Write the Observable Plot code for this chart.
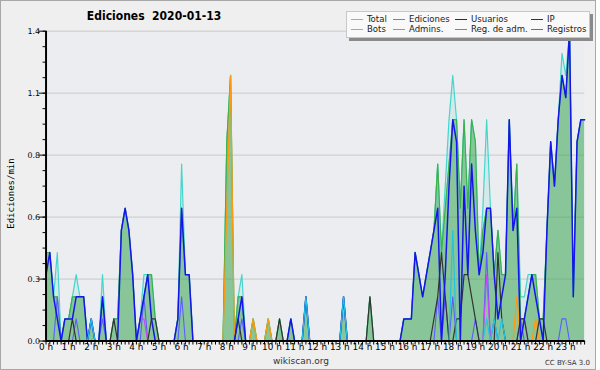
<!DOCTYPE html>
<html><head><meta charset="utf-8">
<script src="https://cdn.jsdelivr.net/npm/d3@7"></script>
<script src="https://cdn.jsdelivr.net/npm/@observablehq/plot@0.6"></script>
<style>
html,body{margin:0;padding:0;background:#fff;}
#wrap{position:relative;width:596px;height:370px;background:#efefef;border:1px solid #a8a8a8;box-sizing:border-box;overflow:hidden;font-family:"DejaVu Sans",sans-serif;color:#000;}
#wrap svg{position:absolute;left:-1px;top:-1px;}
.abs{position:absolute;white-space:pre;line-height:1;}
</style>
</head><body>
<div id="wrap"></div>
<script>
// ---- data: edits per minute, 10-minute slots (6 per hour), 2020-01-13 ----
const title = "Ediciones  2020-01-13";
const yTitle = "Ediciones/min";
const hourLabels = d3.range(24).map(h => h + " h");
const yTicks = [0, 0.28, 0.56, 0.84, 1.12, 1.4];
const seriesNames = ["Total","Ediciones","Usuarios","IP","Bots","Admins.","Reg. de adm.","Registros"];

const total = [
 .4,.4,.2,.4,0,.1,  .1,.2,.3,.2,.2,0,  .1,0,0,.3,0,0,  .1,.1,.5,.6,.5,.3,
 0,.1,.3,.3,.3,.1,  0,0,0,0,0,.1,  .8,.3,.3,0,0,0,  0,0,0,0,0,0,
 .9,1.2,0,.2,.3,0,  0,.1,0,0,0,.1,  0,0,.1,0,0,.1,  0,0,0,.2,0,0,
 0,0,0,0,0,0,  0,.2,0,0,0,0,  0,0,.2,0,0,0,  0,0,0,0,0,.1,
 .1,.1,.4,.3,.2,.3,  .4,.5,.8,.4,.7,1.0,  1.2,1.0,.6,1.0,.6,1.0,  .9,.3,.6,1.0,.6,.3,
 .5,.3,.3,1.0,.5,.8,  .2,.2,.3,.3,.3,.1,  .1,.5,.9,.7,1.0,1.3,  1.2,1.4,.2,.9,1.0,1.0];
const edits = [
 .4,.4,.2,.2,0,.1,  .1,.2,.2,.2,.2,0,  .1,0,0,.2,0,0,  .1,.1,.5,.6,.5,.3,
 0,.1,.2,.3,.3,.1,  0,0,0,0,0,.1,  .6,.3,.3,0,0,0,  0,0,0,0,0,0,
 .9,1.2,0,.2,.2,0,  0,.1,0,0,0,.1,  0,0,.1,0,0,.1,  0,0,0,.2,0,0,
 0,0,0,0,0,0,  0,.2,0,0,0,0,  0,0,.2,0,0,0,  0,0,0,0,0,.1,
 .1,.1,.4,.3,.2,.3,  .4,.5,.8,.4,.6,.8,  1.0,1.0,.6,1.0,.6,1.0,  .9,.3,.5,.6,.6,.3,
 .5,.3,.3,1.0,.5,.8,  .1,.1,.2,.3,.3,.1,  .1,.5,.9,.7,1.0,1.2,  1.1,1.4,.2,.9,1.0,1.0];
const users = [
 .3,.4,.2,.1,0,.1,  .1,.1,.2,.2,.2,0,  .1,0,0,.2,0,0,  0,0,.5,.6,.5,.3,
 0,.1,.2,.3,.1,0,  0,0,0,0,0,.1,  .6,.3,.3,0,0,0,  0,0,0,0,0,0,
 0,0,0,.1,.2,0,  0,0,0,0,0,0,  0,0,0,0,0,.1,  0,0,0,.2,0,0,
 0,0,0,0,0,0,  0,.2,0,0,0,0,  0,0,0,0,0,0,  0,0,0,0,0,.1,
 .1,.1,.4,.3,.2,.3,  .4,.5,.6,0,.3,.7,  1.0,.9,0,.7,.3,.8,  .5,.3,.4,.6,.6,.3,
 .1,.2,.3,1.0,.5,.6,  0,.1,.2,.3,.2,.1,  0,.5,.9,.7,1.0,1.2,  1.1,1.4,.2,.9,1.0,1.0];
const ip = [
 0,0,0,0,0,0,  0,.1,0,0,0,0,  0,0,0,0,0,0,  .1,0,0,0,0,0,
 0,0,0,0,.1,.1,  0,0,0,0,0,0,  0,0,0,0,0,0,  0,0,0,0,0,0,
 0,0,0,.1,0,0,  0,0,0,0,0,0,  0,0,.1,0,0,0,  0,0,0,0,0,0,
 0,0,0,0,0,0,  0,0,0,0,0,0,  0,0,.2,0,0,0,  0,0,0,0,0,0,
 0,0,0,0,0,0,  0,.1,.2,.4,.2,0,  0,.1,.1,.3,.3,.2,  .1,0,0,0,0,0,
 .4,.1,0,0,0,0,  .1,.1,0,0,0,.1,  .1,0,0,0,0,0,  0,0,0,0,0,0];
const bots = [
 0,0,0,0,0,0,  0,0,0,0,0,0,  0,0,0,0,0,0,  0,0,0,0,0,0,
 0,0,0,0,0,0,  0,0,0,0,0,0,  0,0,0,0,0,0,  0,0,0,0,0,0,
 .6,1.2,0,0,0,0,  0,.1,0,0,0,.1,  0,0,0,0,0,0,  0,0,0,0,0,0,
 0,0,0,0,0,0,  0,0,0,0,0,0,  0,0,0,0,0,0,  0,0,0,0,0,0,
 0,0,0,0,0,0,  0,0,0,0,0,0,  0,0,0,0,0,0,  0,0,0,0,0,0,
 0,0,0,0,0,.2,  0,0,0,0,.1,0,  0,0,0,0,0,0,  0,0,0,0,0,0];
const admins = [
 0,0,0,0,0,0,  0,0,0,0,0,0,  .1,0,0,0,0,0,  0,0,0,0,0,0,
 0,0,0,0,0,0,  0,0,0,0,0,0,  0,0,0,0,0,0,  0,0,0,0,0,0,
 0,0,0,0,0,0,  0,0,0,0,0,0,  0,0,0,0,0,0,  0,0,0,.2,0,0,
 0,0,0,0,0,0,  0,.2,0,0,0,0,  0,0,0,0,0,0,  0,0,0,0,0,0,
 0,0,0,0,0,0,  0,0,0,0,0,0,  .5,0,0,0,0,0,  0,0,0,.1,0,.1,
 0,.1,0,0,0,0,  0,0,0,0,0,0,  0,0,0,0,0,0,  0,0,0,0,0,0];
const logAdm = [
 0,0,0,0,0,0,  0,0,0,0,0,0,  0,0,0,0,0,0,  0,0,0,0,0,0,
 0,.1,.1,0,0,0,  0,0,0,0,0,0,  0,0,0,0,0,0,  0,0,0,0,0,0,
 0,0,0,0,0,0,  0,0,0,0,0,0,  0,0,0,0,0,0,  0,0,0,0,0,0,
 0,0,0,0,0,0,  0,0,0,0,0,0,  0,0,0,0,0,0,  0,0,0,0,0,0,
 0,0,0,0,0,0,  0,0,0,0,0,0,  0,0,0,0,0,0,  0,0,0,.3,0,0,
 0,0,0,0,0,0,  0,.1,0,0,0,0,  0,0,0,0,0,0,  0,0,0,0,0,0];
const logs = [
 0,0,0,.2,0,0,  0,0,.1,0,0,0,  0,0,0,.1,0,0,  0,0,0,0,0,0,
 0,0,.2,0,0,0,  0,0,0,0,0,0,  .2,0,0,0,0,0,  0,0,0,0,0,0,
 0,0,0,0,.1,0,  0,0,0,0,0,0,  0,0,0,0,0,0,  0,0,0,0,0,0,
 0,0,0,0,0,0,  0,0,0,0,0,0,  0,0,0,0,0,0,  0,0,0,0,0,0,
 0,0,0,0,0,0,  0,0,.2,0,.2,0,  .2,0,0,0,0,0,  .1,0,0,.4,0,.1,
 0,0,0,0,0,0,  .1,0,0,0,0,0,  0,0,0,0,0,.1,  .1,0,0,0,0,0];

// ---- styles ----
const colors = {Total:"#44d6cc", Ediciones:"#3cb04a", Usuarios:"#1414ee", IP:"#333333",
  Bots:"#ff9a10", "Admins.":"#22c4e0", "Reg. de adm.":"#cc44ff", Registros:"#5c5cff"};

const data = total.map((v, i) => ({t: i * 10, total: v, edits: edits[i], users: users[i], ip: ip[i],
  bots: bots[i], admins: admins[i], logAdm: logAdm[i], logs: logs[i]}));
const minorY = d3.range(0, 1.4001, 0.07);
const minorX = d3.range(0, 1440, 10);
const hourTicks = d3.range(24).map(h => h * 60);

const plot = Plot.plot({
  width: 600, height: 370,
  marginLeft: 46, marginRight: 10, marginTop: 31, marginBottom: 26,
  x: {domain: [0, 1430]},
  y: {domain: [0, 1.4]},
  style: {background: "none", fontFamily: "DejaVu Sans, sans-serif", color: "#000", overflow: "visible"},
  marks: [
    Plot.frame({fill: "#ecedf0", stroke: "none"}),
    Plot.ruleY(yTicks.slice(1), {stroke: "#c9c9c9"}),
    Plot.areaY(data, {x: "t", y: "total", fill: "#40d0c8", fillOpacity: 0.13}),
    Plot.areaY(data, {x: "t", y: "edits", fill: "#2e9c3a", fillOpacity: 0.46}),
    Plot.lineY(data, {x: "t", y: "total", stroke: colors.Total, strokeWidth: 1.2}),
    Plot.lineY(data, {x: "t", y: "edits", stroke: colors.Ediciones, strokeWidth: 1.2}),
    Plot.lineY(data, {x: "t", y: "logs", stroke: colors.Registros, strokeWidth: 1.1}),
    Plot.lineY(data, {x: "t", y: "logAdm", stroke: colors["Reg. de adm."], strokeWidth: 1.1}),
    Plot.lineY(data, {x: "t", y: "bots", stroke: colors.Bots, strokeWidth: 1.3}),
    Plot.lineY(data, {x: "t", y: "ip", stroke: colors.IP, strokeWidth: 1.2}),
    Plot.lineY(data, {x: "t", y: "users", stroke: colors.Usuarios, strokeWidth: 1.5}),
    Plot.lineY(data, {x: "t", y: "admins", stroke: colors["Admins."], strokeWidth: 1.2}),
    Plot.axisY(minorY, {tickSize: 3, tickFormat: () => "", label: null}),
    Plot.axisY(yTicks, {tickSize: 7, tickPadding: -1, tickFormat: d3.format(".1f"), fontSize: 8, label: null}),
    Plot.axisX(minorX, {tickSize: 4, tickFormat: () => "", label: null}),
    Plot.axisX(hourTicks, {tickSize: 0, tickPadding: 3, tickFormat: d => hourLabels[Math.round(d / 60)], fontSize: 9, label: null}),
    Plot.ruleY([0], {stroke: "#000", strokeWidth: 2}),
    Plot.ruleX([0], {stroke: "#000", strokeWidth: 2})
  ]
});
const wrap = document.getElementById("wrap");
wrap.appendChild(plot);

function addText(txt, css) {
  const d = document.createElement("div");
  d.className = "abs";
  d.textContent = txt;
  Object.assign(d.style, css);
  wrap.appendChild(d);
  return d;
}
addText(title, {left: "0px", width: "306px", textAlign: "center", top: "9px", fontSize: "12px", fontWeight: "bold", fontFamily: "'DejaVu Sans Condensed','DejaVu Sans',sans-serif"});
addText(yTitle, {left: "-30px", top: "188px", width: "80px", textAlign: "center", fontSize: "9px", fontFamily: "'DejaVu Sans Mono',monospace", transform: "rotate(-90deg)", transformOrigin: "50% 50%"});
addText("wikiscan.org", {left: "250px", width: "100px", textAlign: "center", top: "356px", fontSize: "9px", color: "#333"});
addText("CC BY-SA 3.0", {left: "520px", width: "69px", textAlign: "right", top: "359px", fontSize: "7px", color: "#333"});

// legend
const leg = document.createElement("div");
Object.assign(leg.style, {position: "absolute", left: "345px", top: "10px", width: "244px", height: "27px",
  background: "#f9f9f9", border: "1px solid #c8c8c8", boxShadow: "3px 3px 0 #8a8a8a", boxSizing: "border-box"});
wrap.appendChild(leg);
const colX = [4, 46, 108, 184];
seriesNames.forEach((name, k) => {
  const row = Math.floor(k / 4), col = k % 4;
  const sw = document.createElement("div");
  Object.assign(sw.style, {position: "absolute", left: colX[col] + "px", top: (7 + row * 10) + "px",
    width: "12px", height: "1px", background: colors[name]});
  leg.appendChild(sw);
  const t = document.createElement("div");
  t.className = "abs";
  t.textContent = name;
  Object.assign(t.style, {left: (colX[col] + 16) + "px", top: (2 + row * 10) + "px", fontSize: "9.5px", color: "#222",
    fontFamily: "'DejaVu Sans Condensed','DejaVu Sans',sans-serif"});
  leg.appendChild(t);
});
</script>
</body></html>
